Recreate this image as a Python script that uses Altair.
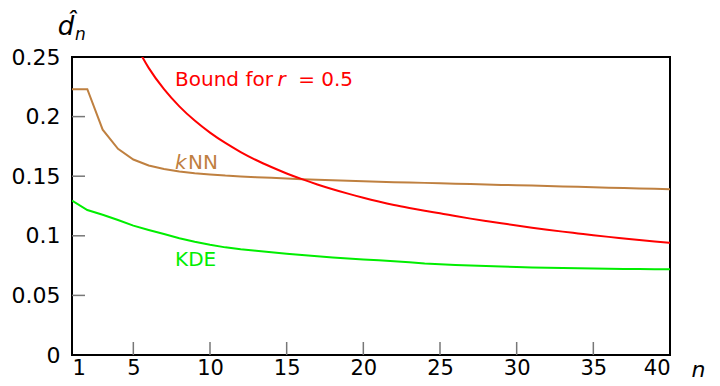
import altair as alt
import pandas as pd

# ---- data ----
n_vals = list(range(1, 41))
knn_vals = [0.223, 0.223, 0.189, 0.173, 0.164, 0.159, 0.156, 0.154, 0.1525, 0.1515,
            0.1505, 0.1498, 0.1492, 0.1486, 0.148, 0.1475, 0.147, 0.1466, 0.1462, 0.1458,
            0.1454, 0.145, 0.1447, 0.1444, 0.1441, 0.1437, 0.1434, 0.1431, 0.1427, 0.1424,
            0.1421, 0.1417, 0.1414, 0.1411, 0.1407, 0.1404, 0.14, 0.1397, 0.1394, 0.139]
kde_vals = [0.1295, 0.1216, 0.1177, 0.1133, 0.1085, 0.1049, 0.1015, 0.098, 0.095, 0.0925,
            0.0903, 0.0887, 0.0874, 0.0862, 0.085, 0.0838, 0.0828, 0.0818, 0.081, 0.0802,
            0.0795, 0.0786, 0.0778, 0.0768, 0.0762, 0.0756, 0.0751, 0.0746, 0.0742, 0.0738,
            0.0735, 0.0732, 0.0729, 0.0727, 0.0725, 0.0723, 0.0722, 0.0721, 0.072, 0.0719]
bound_n = list(range(5, 41))
bound_vals = [0.2639, 0.2409, 0.2230, 0.2086, 0.1967, 0.1866, 0.1779, 0.1703, 0.1636, 0.1577,
              0.1523, 0.1475, 0.1431, 0.1391, 0.1354, 0.1319, 0.1287, 0.1258, 0.1233, 0.1210,
              0.1190, 0.1166, 0.1144, 0.1124, 0.1105, 0.1086, 0.1068, 0.1051, 0.1035, 0.1020,
              0.1005, 0.0991, 0.0978, 0.0965, 0.0953, 0.0942]

x_tick_vals = [1, 5, 10, 15, 20, 25, 30, 35, 40]
y_tick_vals = [0, 0.05, 0.1, 0.15, 0.2, 0.25]
inner_x_ticks = [5, 10, 15, 20, 25, 30, 35]
inner_y_ticks = [0.05, 0.1, 0.15, 0.2]

label_text = ["Bound for", "r", "= 0.5", "k", "NN", "KDE"]
label_n = [7.72, 14.4, 15.75, 7.72, 8.57, 7.72]
label_y = [0.2307, 0.2307, 0.2307, 0.1611, 0.1611, 0.0797]
label_italic = [False, True, False, True, False, False]
label_color = ["#ff0000", "#ff0000", "#ff0000", "#bf8040", "#bf8040", "#00ee00"]

# y-axis title pieces: d-hat with subscript n
ytitle_text = ["d̂", "n"]
ytitle_size = [26, 17]

W, H = 598, 298
FONT = "DejaVu Sans"

knn_df = pd.DataFrame({"n": n_vals, "v": knn_vals})
kde_df = pd.DataFrame({"n": n_vals, "v": kde_vals})
bound_df = pd.DataFrame({"n": bound_n, "v": bound_vals})
lab_df = pd.DataFrame({"t": label_text, "n": label_n, "v": label_y,
                       "it": label_italic, "c": label_color})

xs = alt.Scale(domain=[1, 40], nice=False, zero=False)
ys = alt.Scale(domain=[0, 0.25], nice=False)

x_axis = alt.Axis(values=x_tick_vals, ticks=False, domain=False, grid=False,
                  labelFont=FONT, labelFontSize=21, labelColor="black", labelPadding=2,
                  title="n", titleFont=FONT, titleFontSize=22, titleFontStyle="italic",
                  titleFontWeight="normal", titleColor="black",
                  titleX=626, titleY=14, titleAlign="center", titleBaseline="middle")
y_axis = alt.Axis(values=y_tick_vals, ticks=False, domain=False, grid=False, format="~g",
                  labelFont=FONT, labelFontSize=22, labelColor="black", labelPadding=12,
                  title=None)

base_x = alt.X("n:Q", scale=xs, axis=x_axis)
base_y = alt.Y("v:Q", scale=ys, axis=y_axis)

knn_line = alt.Chart(knn_df).mark_line(color="#bf8040", strokeWidth=2, clip=True).encode(
    x=base_x, y=base_y)
kde_line = alt.Chart(kde_df).mark_line(color="#00ee00", strokeWidth=2, clip=True).encode(
    x="n:Q", y="v:Q")
bound_line = alt.Chart(bound_df).mark_line(color="#ff0000", strokeWidth=2, clip=True,
                                           interpolate="monotone").encode(
    x="n:Q", y="v:Q")

xt_df = pd.DataFrame({"n": inner_x_ticks})
yt_df = pd.DataFrame({"v": inner_y_ticks})
x_ticks = alt.Chart(xt_df).mark_rule(color="#777777", strokeWidth=1.5).encode(
    x="n:Q", y=alt.value(H), y2=alt.value(H - 13))
y_ticks = alt.Chart(yt_df).mark_rule(color="#777777", strokeWidth=1.5).encode(
    y="v:Q", x=alt.value(0), x2=alt.value(13))

labels_normal = alt.Chart(lab_df).transform_filter("!datum.it").mark_text(
    font=FONT, fontSize=20, align="left", baseline="middle").encode(
    x="n:Q", y="v:Q", text="t:N", color=alt.Color("c:N", scale=None))
labels_italic = alt.Chart(lab_df).transform_filter("datum.it").mark_text(
    font=FONT, fontSize=20, align="left", baseline="middle", fontStyle="italic").encode(
    x="n:Q", y="v:Q", text="t:N", color=alt.Color("c:N", scale=None))

# y-axis title drawn as text (main glyph + subscript)
yt_main = alt.Chart(pd.DataFrame({"t": [ytitle_text[0]]})).mark_text(
    font=FONT, fontSize=ytitle_size[0], fontStyle="italic", align="center",
    baseline="alphabetic", color="black").encode(
    text="t:N", x=alt.value(-6), y=alt.value(-22))
yt_sub = alt.Chart(pd.DataFrame({"t": [ytitle_text[1]]})).mark_text(
    font=FONT, fontSize=ytitle_size[1], fontStyle="italic", align="left",
    baseline="alphabetic", color="black").encode(
    text="t:N", x=alt.value(3), y=alt.value(-17))

chart = alt.layer(knn_line, kde_line, bound_line, x_ticks, y_ticks,
                  labels_normal, labels_italic, yt_main, yt_sub).properties(
    width=W, height=H,
    background="white",
    autosize=alt.AutoSizeParams(type="none"),
    padding={"left": 64, "top": 49, "right": 40, "bottom": 23},
).configure_view(stroke="black", strokeWidth=2)

chart.save("out.html", embed_options={"renderer": "svg", "actions": False})
